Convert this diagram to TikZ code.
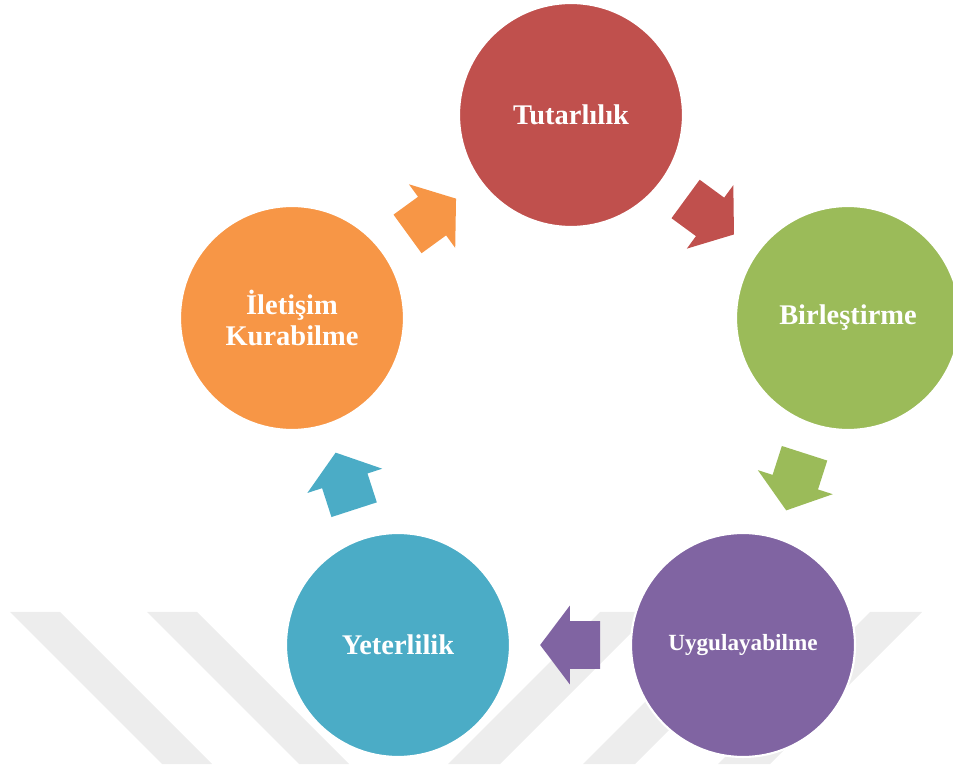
\documentclass[tikz,border=0pt]{standalone}
\usepackage{fontspec}
\setmainfont{Liberation Serif}
\usetikzlibrary{shapes.arrows,calc}

\definecolor{tutred}{HTML}{C0504D}
\definecolor{birgreen}{HTML}{9BBB59}
\definecolor{uygpurple}{HTML}{8064A2}
\definecolor{yetblue}{HTML}{4BACC6}
\definecolor{iletorange}{HTML}{F79646}

\tikzset{
  phase/.style={circle, draw=white, line width=1.2pt, minimum size=4.48cm, inner sep=0pt,
    text=white, align=center, font=\bfseries\fontsize{16.2}{17.6}\selectfont},
  cyclearrow/.style={single arrow, draw=none, minimum height=1.2cm, inner xsep=0pt,
    inner ysep=0.47cm, single arrow head extend=0.31cm, single arrow tip angle=106,
    sloped, allow upside down, pos=0, anchor=tail},
  stripe/.style={fill=black!7}
}

\begin{document}
\begin{tikzpicture}[x=0.02cm, y=0.02cm]
  \useasboundingbox (0,0) rectangle (953,764);

  % faint background stripes
  \fill[stripe] (10,152) -- (60,152) -- (212,0) -- (162,0) -- cycle;
  \fill[stripe] (147,152) -- (197,152) -- (349,0) -- (299,0) -- cycle;
  \fill[stripe] (600,152) -- (652,152) -- (500,0) -- (448,0) -- cycle;
  \fill[stripe] (735,152) -- (787,152) -- (635,0) -- (583,0) -- cycle;
  \fill[stripe] (870,152) -- (922,152) -- (770,0) -- (718,0) -- cycle;

  \node[phase, fill=tutred] (tut) at (571,649) {Tutarlılık};
  \node[phase, fill=birgreen] (bir) at (848,446) {Birleştirme};
  \node[phase, fill=uygpurple, font=\bfseries\fontsize{13.2}{15}\selectfont] (uyg) at (743,119) {Uygulayabilme};
  \node[phase, fill=yetblue] (yet) at (398,119) {Yeterlilik};
  \node[phase, fill=iletorange] (ilet) at (292,446) {İletişim\\Kurabilme};

  % arrows halfway between the circles
  \foreach \a/\b/\c in {ilet/tut/iletorange, tut/bir/tutred, bir/uyg/birgreen,
                        uyg/yet/uygpurple, yet/ilet/yetblue}
    \path ($(\a.center)!0.5!(\b.center)!0.6cm!(\a.center)$) -- node[cyclearrow, fill=\c] {} (\b.center);
\end{tikzpicture}
\end{document}
